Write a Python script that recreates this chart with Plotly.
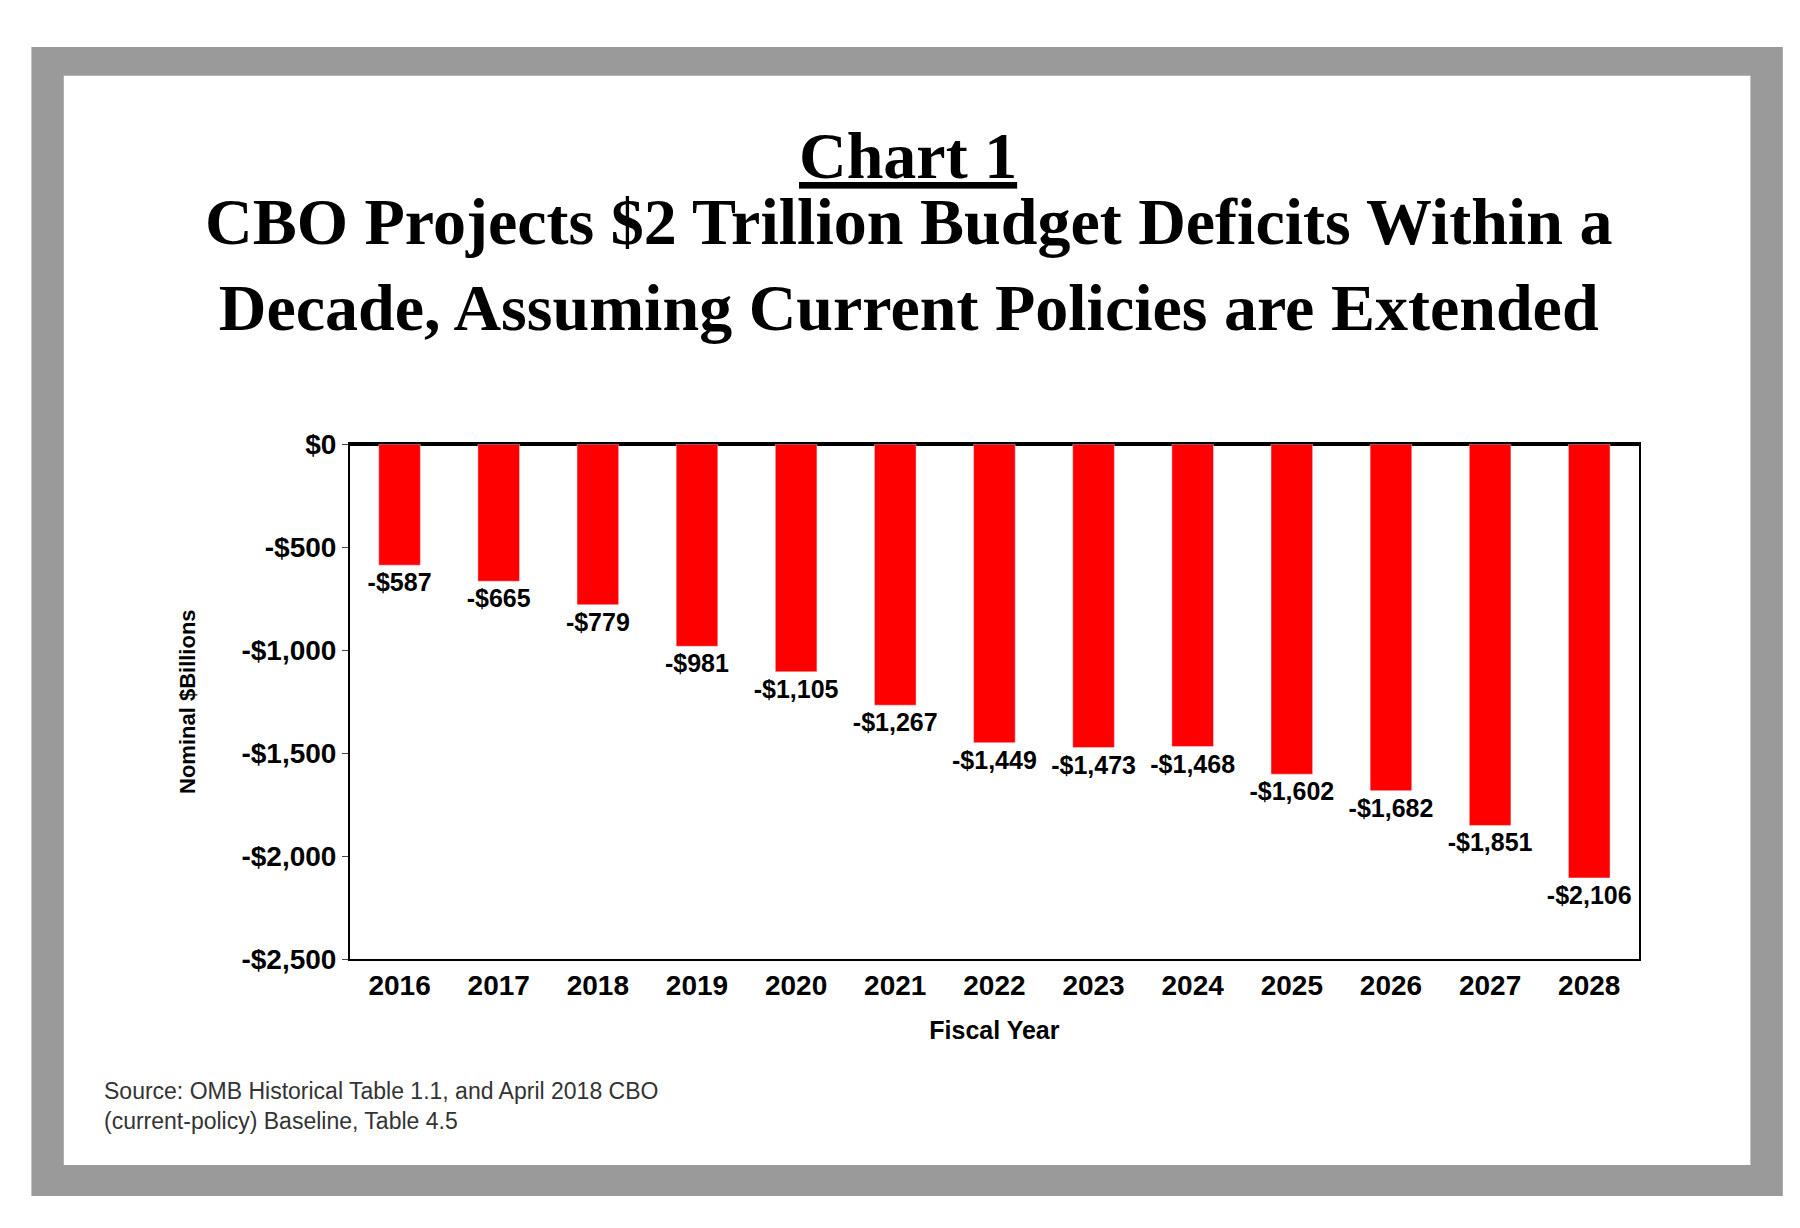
import plotly.graph_objects as go

years = ["2016","2017","2018","2019","2020","2021","2022","2023","2024","2025","2026","2027","2028"]
deficits = [-587,-665,-779,-981,-1105,-1267,-1449,-1473,-1468,-1602,-1682,-1851,-2106]
labels = ["-$587","-$665","-$779","-$981","-$1,105","-$1,267","-$1,449","-$1,473","-$1,468","-$1,602","-$1,682","-$1,851","-$2,106"]
tickvals = [0,-500,-1000,-1500,-2000,-2500]
ticktext = ["$0","-$500","-$1,000","-$1,500","-$2,000","-$2,500"]

fig = go.Figure(go.Bar(x=years, y=deficits, text=labels, textposition="outside",
                       texttemplate="<b>%{text}</b>", constraintext="none",
                       textfont=dict(family="Liberation Sans", size=25, color="black"),
                       marker_color="#ff0000", width=0.42, cliponaxis=False))
fig.update_layout(
    width=1800, height=1228, paper_bgcolor="white", plot_bgcolor="white",
    margin=dict(l=0, r=0, t=0, b=0), showlegend=False,
    font=dict(family="Liberation Sans", color="black"),
    xaxis=dict(domain=[0.19, 0.906], showline=True, mirror=True, linecolor="black", linewidth=2,
               tickvals=years, ticktext=["<b>%s</b>" % y for y in years],
               tickfont=dict(size=28, family="Liberation Sans"), ticks="",
               title=dict(text="<b>Fiscal Year</b>", font=dict(size=25), standoff=22)),
    yaxis=dict(domain=[0.218, 0.648], range=[-2500, 0], tickvals=tickvals,
               ticktext=["<b>%s</b>" % t for t in ticktext],
               showline=True, mirror=True, linecolor="black", linewidth=2, showgrid=False,
               zeroline=True, zerolinecolor="black", zerolinewidth=4,
               ticks="outside", ticklen=6, tickfont=dict(size=28, family="Liberation Sans"),
               title=dict(text="<b>Nominal $Billions</b>", font=dict(size=22), standoff=40)),
)
fig.add_shape(type="rect", xref="paper", yref="paper", x0=0.013, x1=0.986, y0=0.020, y1=0.980,
              fillcolor="#9a9a9a", line=dict(width=0), layer="below")
fig.add_shape(type="rect", xref="paper", yref="paper", x0=0.031, x1=0.968, y0=0.046, y1=0.956,
              fillcolor="white", line=dict(width=0), layer="below")
serif = "Liberation Serif"
fig.add_annotation(text="<b><u>Chart 1</u></b>", x=0.5, y=0.889, xref="paper", yref="paper",
                   yanchor="middle", showarrow=False, font=dict(family=serif, size=66))
fig.add_annotation(text="<b>CBO Projects $2 Trillion Budget Deficits Within a<br>Decade, Assuming Current Policies are Extended</b>",
                   x=0.5, y=0.798, xref="paper", yref="paper", yanchor="middle", showarrow=False,
                   font=dict(family=serif, size=66), align="center")
fig.add_annotation(text="Source: OMB Historical Table 1.1, and April 2018 CBO<br>(current-policy) Baseline, Table 4.5",
                   x=0.052, y=0.095, xref="paper", yref="paper", xanchor="left", yanchor="middle",
                   showarrow=False, align="left", font=dict(size=23, color="#333"))
fig.write_html("out.html")
